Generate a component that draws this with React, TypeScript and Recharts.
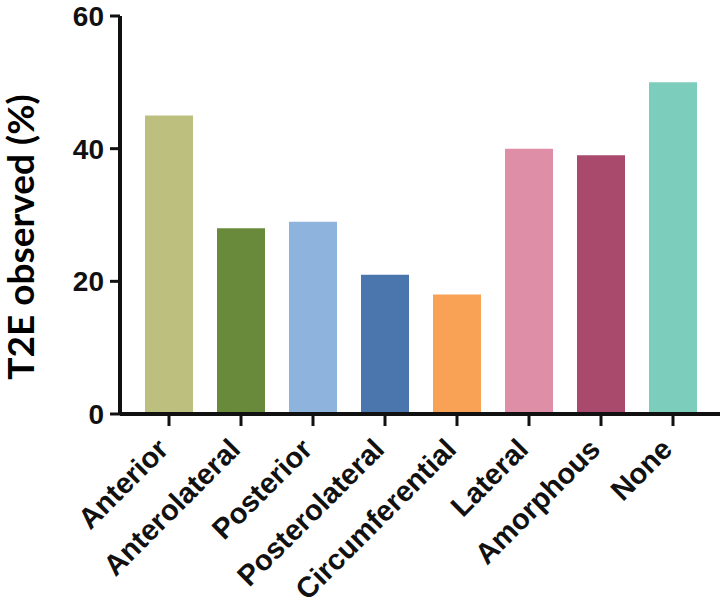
import React from "react"
import { BarChart, Bar, XAxis, YAxis, Cell, Label } from "recharts"

// categories and values
const categories = [
  "Anterior",
  "Anterolateral",
  "Posterior",
  "Posterolateral",
  "Circumferential",
  "Lateral",
  "Amorphous",
  "None",
]
const t2eObserved = [45, 28, 29, 21, 18, 40, 39, 50]
const yTicks = [0, 20, 40, 60]

const barColors = [
  "#bdbf7f",
  "#6a8a3b",
  "#8eb4de",
  "#4b76ad",
  "#f9a255",
  "#df8ea8",
  "#a94a6c",
  "#7ccdbb",
]

const data = categories.map((name, i) => ({ name, value: t2eObserved[i] }))

const axisFont = "'Liberation Sans', Arial, sans-serif"

const XTick = (props: any) => {
  const { x, y, payload } = props
  return (
    <g transform={`translate(${x + 1},${y + 23})`}>
      <text
        textAnchor="end"
        transform="rotate(-45)"
        fontFamily={axisFont}
        fontWeight="bold"
        fontSize={29}
        fill="#111"
      >
        {payload.value}
      </text>
    </g>
  )
}

const YTick = (props: any) => {
  const { x, y, payload } = props
  return (
    <text
      x={x - 4}
      y={y}
      dy="0.36em"
      textAnchor="end"
      fontFamily={axisFont}
      fontWeight="bold"
      fontSize={28}
      fill="#111"
    >
      {payload.value}
    </text>
  )
}

const YTitle = () => (
  <text
    transform="translate(34,237) rotate(-90)"
    textAnchor="middle"
    fontFamily="Lato, 'Open Sans', sans-serif"
    fontWeight="bold"
    fontSize={37}
    fill="#000"
  >
    T2E observed (%)
  </text>
)

export default function App() {
  return (
    <div style={{ position: "absolute", left: 0, top: 0, width: 725, height: 612, background: "#fff" }}>
      <BarChart
        width={725}
        height={612}
        data={data}
        margin={{ top: 16, right: 5, left: 0, bottom: 0 }}
      >
        <XAxis
          dataKey="name"
          height={198}
          interval={0}
          padding={{ left: 13, right: 11 }}
          axisLine={{ stroke: "#111", strokeWidth: 4 }}
          tickLine={{ stroke: "#111", strokeWidth: 3 }}
          tickSize={12}
          tick={<XTick />}
        />
        <YAxis
          width={120}
          domain={[0, 60]}
          ticks={yTicks}
          interval={0}
          axisLine={{ stroke: "#111", strokeWidth: 4 }}
          tickLine={{ stroke: "#111", strokeWidth: 3 }}
          tickSize={10}
          tick={<YTick />}
        >
          <Label content={<YTitle />} />
        </YAxis>
        <Bar dataKey="value" barSize={48} isAnimationActive={false}>
          {data.map((d, i) => (
            <Cell key={d.name} fill={barColors[i]} />
          ))}
        </Bar>
      </BarChart>
    </div>
  )
}
